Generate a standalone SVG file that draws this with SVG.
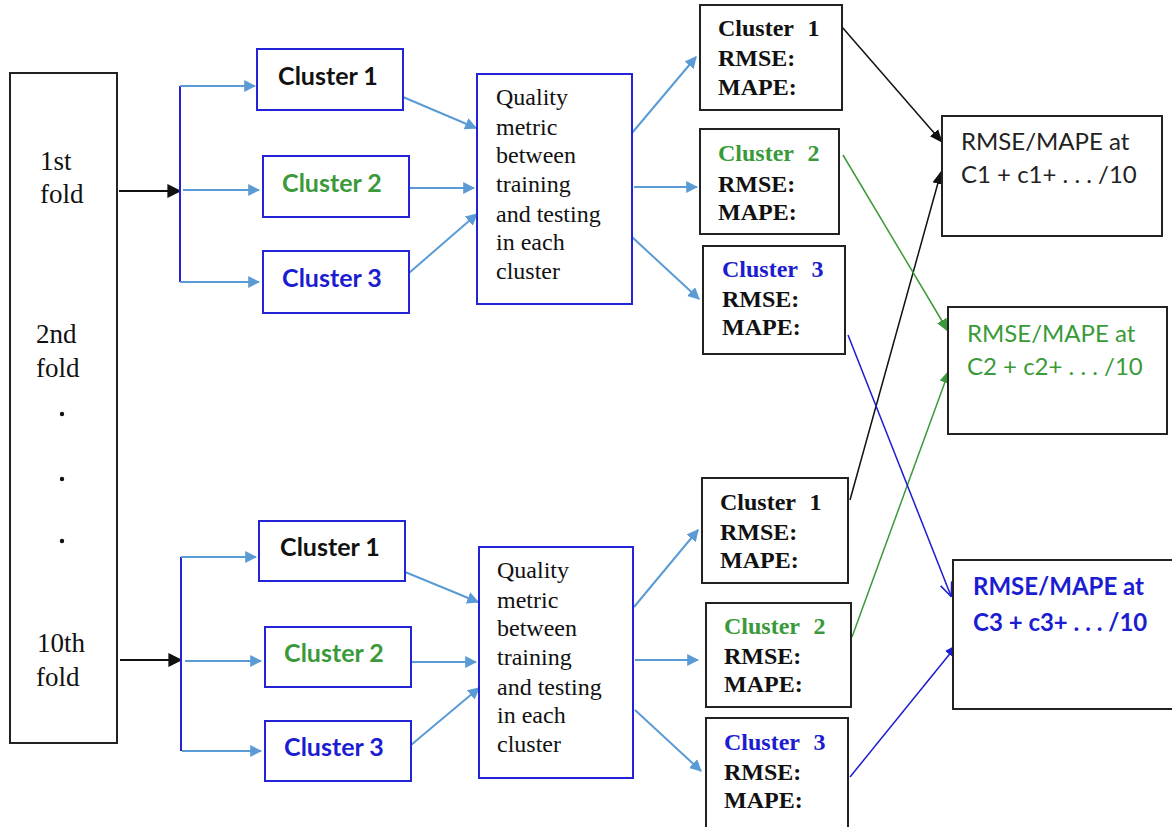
<svg xmlns="http://www.w3.org/2000/svg" width="1172" height="827" viewBox="0 0 1172 827">
<style>
.bk{fill:#fff;stroke:#222;stroke-width:2}
.bb{fill:#fff;stroke:#2323d8;stroke-width:2}
.serif{font-family:"Liberation Serif","Times New Roman",serif}
.fold{font-size:27px;fill:#111}
.q{font-size:24px;fill:#111}
.cl{font-family:Lato,"Liberation Sans",sans-serif;font-weight:bold;font-size:25px;text-anchor:middle}
.rm{font-family:"Liberation Serif",serif;font-weight:bold;font-size:24px;fill:#111}
.sum{font-family:Lato,"Liberation Sans",sans-serif;font-size:24px}
.black{fill:#111}.green{fill:#3a9a3a}.blue{fill:#1c1cd0}
.lb{stroke:#5b9bd5;stroke-width:2;fill:none}
</style>
<defs>
<marker id="aL" viewBox="0 0 10 10" refX="9" refY="5" markerWidth="6" markerHeight="6" orient="auto" markerUnits="strokeWidth"><path d="M0,0L10,5L0,10z" fill="#5b9bd5"/></marker>
<marker id="aK" viewBox="0 0 10 10" refX="9" refY="5" markerWidth="7" markerHeight="7" orient="auto" markerUnits="strokeWidth"><path d="M0,0L10,5L0,10z" fill="#111"/></marker>
<marker id="aKs" viewBox="0 0 10 10" refX="9" refY="5" markerWidth="9" markerHeight="9" orient="auto" markerUnits="strokeWidth"><path d="M0,1L10,5L0,9z" fill="#111"/></marker>
<marker id="aG" viewBox="0 0 10 10" refX="9" refY="5" markerWidth="9" markerHeight="9" orient="auto" markerUnits="strokeWidth"><path d="M0,1L10,5L0,9z" fill="#3a9a3a"/></marker>
<marker id="aB" viewBox="0 0 10 10" refX="9" refY="5" markerWidth="9" markerHeight="9" orient="auto" markerUnits="strokeWidth"><path d="M0,1L10,5L0,9z" fill="#1c1cd0"/></marker>
<marker id="aBo" viewBox="0 0 10 10" refX="9" refY="5" markerWidth="10" markerHeight="10" orient="auto" markerUnits="strokeWidth"><path d="M0,1L9.5,5L0,9" fill="none" stroke="#1c1cd0" stroke-width="1"/></marker>
</defs>
<rect width="1172" height="827" fill="#fff"/>

<g id="connectors">
<line x1="119" y1="191" x2="180" y2="191" stroke="#111" stroke-width="2" marker-end="url(#aK)"/>
<line x1="120" y1="660" x2="181" y2="660" stroke="#111" stroke-width="2" marker-end="url(#aK)"/>
<line x1="180" y1="86" x2="180" y2="282" stroke="#2323d8" stroke-width="2"/>
<line x1="181" y1="557" x2="181" y2="751" stroke="#2323d8" stroke-width="2"/>
<line class="lb" x1="180" y1="86" x2="255" y2="86" marker-end="url(#aL)"/>
<line class="lb" x1="183" y1="190" x2="259" y2="190" marker-end="url(#aL)"/>
<line class="lb" x1="180" y1="282" x2="259" y2="282" marker-end="url(#aL)"/>
<line class="lb" x1="181" y1="557" x2="256" y2="557" marker-end="url(#aL)"/>
<line class="lb" x1="185" y1="661" x2="261" y2="661" marker-end="url(#aL)"/>
<line class="lb" x1="182" y1="751" x2="261" y2="751" marker-end="url(#aL)"/>
<line class="lb" x1="403" y1="97" x2="476" y2="128" marker-end="url(#aL)"/>
<line class="lb" x1="409" y1="188" x2="474" y2="188" marker-end="url(#aL)"/>
<line class="lb" x1="409" y1="273" x2="477" y2="214" marker-end="url(#aL)"/>
<line class="lb" x1="405" y1="572" x2="478" y2="602" marker-end="url(#aL)"/>
<line class="lb" x1="411" y1="662" x2="476" y2="662" marker-end="url(#aL)"/>
<line class="lb" x1="411" y1="745" x2="479" y2="688" marker-end="url(#aL)"/>
<line class="lb" x1="632" y1="133" x2="696" y2="57" marker-end="url(#aL)"/>
<line class="lb" x1="634" y1="187" x2="697" y2="187" marker-end="url(#aL)"/>
<line class="lb" x1="632" y1="237" x2="699" y2="299" marker-end="url(#aL)"/>
<line class="lb" x1="634" y1="607" x2="698" y2="530" marker-end="url(#aL)"/>
<line class="lb" x1="635" y1="660" x2="698" y2="660" marker-end="url(#aL)"/>
<line class="lb" x1="635" y1="710" x2="701" y2="771" marker-end="url(#aL)"/>
<line x1="842" y1="27" x2="942" y2="142" stroke="#111" stroke-width="1.5" marker-end="url(#aKs)"/>
<line x1="850" y1="500" x2="941" y2="172" stroke="#111" stroke-width="1.5" marker-end="url(#aKs)"/>
<line x1="843" y1="155" x2="948" y2="331" stroke="#3a9a3a" stroke-width="1.5" marker-end="url(#aG)"/>
<line x1="852" y1="637" x2="949" y2="371" stroke="#3a9a3a" stroke-width="1.5" marker-end="url(#aG)"/>
<line x1="848" y1="335" x2="951" y2="596" stroke="#1c1cd0" stroke-width="1.5" marker-end="url(#aBo)"/>
<line x1="850" y1="777" x2="957" y2="645" stroke="#1c1cd0" stroke-width="1.5" marker-end="url(#aB)"/>
</g>

<g id="folds">
<rect class="bk" x="10" y="73" width="107" height="670"/>
<text class="serif fold" x="40" y="170">1st</text>
<text class="serif fold" x="40" y="203">fold</text>
<text class="serif fold" x="36" y="343">2nd</text>
<text class="serif fold" x="36" y="377">fold</text>
<circle cx="62" cy="414" r="2.2" fill="#111"/>
<circle cx="62" cy="479" r="2.2" fill="#111"/>
<circle cx="62" cy="541" r="2.2" fill="#111"/>
<text class="serif fold" x="37" y="652">10th</text>
<text class="serif fold" x="36" y="686">fold</text>
</g>

<g id="top-c1"><rect class="bb" x="257" y="49" width="146" height="61"/><text class="cl black" x="328" y="85">Cluster 1</text></g>
<g id="top-c2"><rect class="bb" x="263" y="156" width="146" height="61"/><text class="cl green" x="332" y="192">Cluster 2</text></g>
<g id="top-c3"><rect class="bb" x="263" y="251" width="146" height="62"/><text class="cl blue" x="332" y="287">Cluster 3</text></g>

<g id="bot-c1"><rect class="bb" x="259" y="521" width="146" height="60"/><text class="cl black" x="330" y="556">Cluster 1</text></g>
<g id="bot-c2"><rect class="bb" x="265" y="627" width="146" height="60"/><text class="cl green" x="334" y="662">Cluster 2</text></g>
<g id="bot-c3"><rect class="bb" x="265" y="721" width="146" height="60"/><text class="cl blue" x="334" y="756">Cluster 3</text></g>

<g id="top-quality">
<rect class="bb" x="477" y="74" width="155" height="230"/>
<text class="serif q"><tspan x="496" y="105">Quality</tspan><tspan x="496" y="135">metric</tspan><tspan x="496" y="163">between</tspan><tspan x="496" y="192">training</tspan><tspan x="496" y="222">and testing</tspan><tspan x="496" y="250">in each</tspan><tspan x="496" y="279">cluster</tspan></text>
</g>
<g id="bot-quality">
<rect class="bb" x="479" y="547" width="154" height="231"/>
<text class="serif q"><tspan x="497" y="578">Quality</tspan><tspan x="497" y="608">metric</tspan><tspan x="497" y="636">between</tspan><tspan x="497" y="665">training</tspan><tspan x="497" y="695">and testing</tspan><tspan x="497" y="723">in each</tspan><tspan x="497" y="752">cluster</tspan></text>
</g>

<g id="top-r1"><rect class="bk" x="700" y="5" width="142" height="105"/>
<text class="rm" x="718" y="36" word-spacing="8">Cluster 1</text><text class="rm" x="718" y="66">RMSE:</text><text class="rm" x="718" y="95">MAPE:</text></g>
<g id="top-r2"><rect class="bk" x="700" y="129" width="139" height="105"/>
<text class="rm green" x="718" y="161" word-spacing="8">Cluster 2</text><text class="rm" x="718" y="192">RMSE:</text><text class="rm" x="718" y="220">MAPE:</text></g>
<g id="top-r3"><rect class="bk" x="703" y="246" width="142" height="108"/>
<text class="rm blue" x="722" y="277" word-spacing="8">Cluster 3</text><text class="rm" x="722" y="307">RMSE:</text><text class="rm" x="722" y="335">MAPE:</text></g>

<g id="bot-r1"><rect class="bk" x="702" y="478" width="146" height="105"/>
<text class="rm" x="720" y="510" word-spacing="8">Cluster 1</text><text class="rm" x="720" y="540">RMSE:</text><text class="rm" x="720" y="568">MAPE:</text></g>
<g id="bot-r2"><rect class="bk" x="706" y="603" width="145" height="104"/>
<text class="rm green" x="724" y="634" word-spacing="8">Cluster 2</text><text class="rm" x="724" y="664">RMSE:</text><text class="rm" x="724" y="692">MAPE:</text></g>
<g id="bot-r3"><rect class="bk" x="706" y="718" width="142" height="120"/>
<text class="rm blue" x="724" y="750" word-spacing="8">Cluster 3</text><text class="rm" x="724" y="780">RMSE:</text><text class="rm" x="724" y="808">MAPE:</text></g>

<g id="sum1"><rect class="bk" x="942" y="116" width="220" height="120"/>
<text class="sum" fill="#222" x="961" y="150">RMSE/MAPE at</text><text class="sum" fill="#222" x="961" y="183">C1 + c1+ . . . /10</text></g>
<g id="sum2"><rect class="bk" x="948" y="307" width="219" height="127"/>
<text class="sum green" x="967" y="342">RMSE/MAPE at</text><text class="sum green" x="967" y="375">C2 + c2+ . . . /10</text></g>
<g id="sum3"><rect class="bk" x="953" y="560" width="240" height="149"/>
<text class="sum blue" font-weight="bold" font-size="25px" x="973" y="595">RMSE/MAPE at</text><text class="sum blue" font-weight="bold" font-size="25px" x="973" y="631">C3 + c3+ . . . /10</text></g>
</svg>
